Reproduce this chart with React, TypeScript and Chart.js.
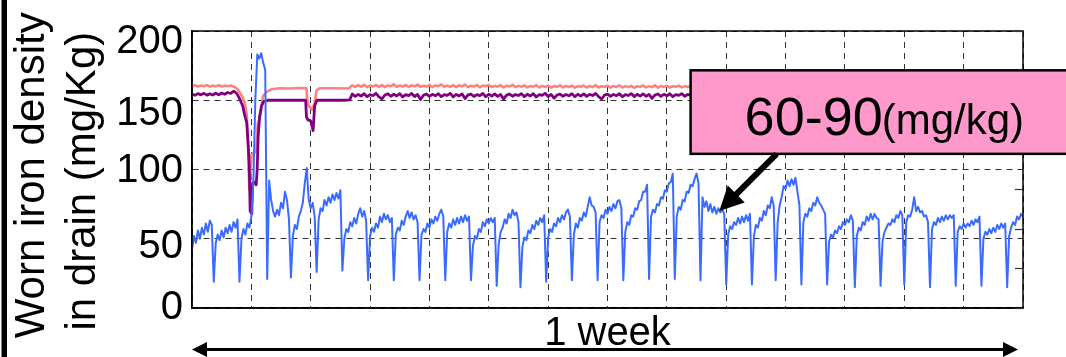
import React, { useEffect, useRef } from 'react';
import { Chart, registerables } from 'chart.js';

Chart.register(...registerables);

const FONT = 'Arial, "Liberation Sans", Helvetica, sans-serif';

// x axis: elapsed hours over one week, dashed grid every 12 h
const X_MIN = 0;
const X_MAX = 168;
const X_STEP = 12;

const Y_MIN = 0;
const Y_MAX = 200;
const Y_STEP = 50;
// vertical nudge (px) of each y tick label, as placed in the original figure
const Y_TICK_SHIFT: Record<number, number> = { 200: 11, 150: 14, 100: 1, 50: 8, 0: 0 };

// secondary (unlabelled) right axis with inward ticks
const Y2_MIN = 0;
const Y2_MAX = 7;
const Y2_STEP = 1;

const Y_TITLE = ['Worn iron density ', 'in drain (mg/Kg)  '];
const X_SPAN_LABEL = '1 week';
const CALLOUT_MAIN = '60-90';
const CALLOUT_UNIT = '(mg/kg)';

// callout box and arrow (data coords: hours, mg/kg)
const CALLOUT_BOX = { x: 100.8, yTop: 171.6, yBottom: 111.3 };
const ARROW_FROM = { x: 118.2, y: 111.3 };
const ARROW_TO = { x: 106.6, y: 70 };

// Worn iron density in drain (blue), one sample every 0.4 h (24 min)
const BLUE_STEP_H = 0.4;
const BLUE_VALUES: number[] = [
  42, 52, 47, 56, 50, 58, 53, 61, 55, 63, 60,
  19, 47, 53, 49, 56, 51, 58, 54, 60, 55, 62, 58, 64,
  19, 50, 57, 53, 61, 58, 66, 90, 150, 183, 180, 184, 177, 172,
  21, 92, 78, 70, 66, 71, 67, 76, 72, 84, 78, 64,
  22, 52, 60, 57, 66, 70, 76, 90, 101, 78, 72, 76, 66,
  26, 64, 72, 70, 78, 74, 80, 76, 82, 78, 83, 79, 85,
  27, 50, 57, 55, 62, 59, 65, 61, 68, 72, 66, 70, 63,
  20, 52, 58, 55, 61, 58, 66, 62, 68, 64, 67, 62, 65,
  20, 53, 58, 56, 63, 60, 66, 70, 65, 69, 64, 67, 62,
  20, 53, 57, 55, 61, 58, 64, 61, 66, 63, 68, 71, 66,
  20, 55, 61, 58, 64, 60, 65, 61, 66, 62, 67, 63, 66,
  20, 45, 52, 50, 57, 55, 62, 59, 64, 61, 65, 62, 65,
  16, 46, 55, 58, 64, 61, 68, 65, 71, 67, 69, 62,
  15, 44, 51, 49, 56, 54, 60, 57, 63, 60, 65, 62, 67,
  19, 51, 57, 55, 61, 59, 65, 62, 67, 64, 69, 71, 66,
  20, 53, 61, 58, 65, 63, 69, 66, 73, 80, 74, 73, 69,
  20, 62, 67, 65, 71, 68, 73, 70, 75, 72, 77, 78, 72,
  20, 55, 62, 60, 67, 66, 72, 71, 77, 78, 84, 84, 89,
  21, 66, 71, 69, 75, 74, 80, 79, 85, 84, 90, 91, 97,
  21, 66, 73, 71, 78, 77, 84, 83, 89, 88, 93, 97, 90,
  20, 80, 73, 77, 70, 75, 69, 73, 68, 72, 69, 71, 68,
  17, 53, 59, 57, 62, 60, 65, 61, 66, 62, 67, 63, 68,
  17, 52, 60, 58, 65, 63, 70, 67, 74, 72, 80, 74,
  20, 62, 74, 80, 88, 86, 92, 88, 93, 89, 94, 84, 74,
  17, 62, 68, 66, 72, 70, 76, 74, 80, 76, 74, 71, 68,
  17, 48, 53, 51, 56, 54, 59, 57, 62, 60, 64, 62, 67, 63,
  15, 52, 58, 56, 62, 60, 66, 63, 68, 64, 68, 65, 64,
  16, 48, 55, 58, 61, 60, 64, 62, 67, 65, 70, 67,
  17, 62, 67, 66, 71, 80, 70, 73, 69, 70, 66, 67, 62,
  15, 57, 62, 60, 65, 62, 66, 63, 67, 64, 67, 65, 67,
  16, 55, 59, 57, 61, 58, 61, 59, 63, 60, 64, 62, 66,
  16, 50, 55, 53, 57, 54, 58, 55, 60, 57, 61, 58, 61,
  15, 52, 58, 62, 60, 66, 64, 68, 66,
];

// purple trace: first day as [hour, value], then samples every 0.6 h
const PURPLE_HEAD: [number, number][] = [
  [0, 154.5], [0.6, 153.6], [1.2, 154.8], [1.8, 153.9], [2.4, 155], [3, 153.7], [3.6, 154.6], [4.2, 153.8],
  [4.8, 155.1], [5.4, 154], [6, 155.2], [6.6, 154.3], [7.2, 155.6], [7.8, 154.9], [8.44, 156.6], [9.04, 155],
  [9.64, 151], [10.24, 146], [10.66, 139], [11.06, 134], [11.36, 118], [11.56, 104], [11.76, 70], [12.08, 68],
  [12.24, 90], [12.48, 91], [12.98, 89], [13.18, 100], [13.38, 124], [13.66, 138], [14.06, 146], [14.48, 149],
  [15.3, 150], [17.74, 150], [20.76, 150], [22.98, 150], [23.14, 138], [23.4, 136], [24, 135], [24.48, 128],
  [24.8, 146], [25.26, 150], [27.82, 150], [30.88, 150], [31.88, 150.3],
];
const TAIL_START_H = 32.4;
const TAIL_STEP_H = 0.6;
const PURPLE_TAIL: number[] = [
  154.5, 152.8, 154.2, 153, 154.8, 152.6, 154, 153.4, 155, 152.5,
  151, 153.8, 154.6, 152.9, 154.3, 153.1, 154.7, 152.4, 154.1, 153.3,
  154.9, 152.7, 154.2, 150.5, 153.6, 154.5, 152.8, 154.3, 153.2, 154.8,
  152.6, 154, 153.5, 155, 152.4, 154.2, 153.1, 154.6, 151.2, 153.9,
  154.4, 152.7, 154.1, 153.3, 154.9, 152.5, 154.3, 153, 154.6, 152.8,
  154.2, 150.8, 153.7, 154.5, 152.9, 154.1, 153.4, 154.8, 152.6, 154.3,
  153.1, 154.7, 152.4, 154, 153.6, 155, 152.7, 154.2, 151.5, 153.8,
  154.4, 152.9, 154.1, 153.2, 154.8, 152.5, 154.3, 153, 154.6, 152.8,
  154.2, 153.4, 154.9, 152.6, 150.9, 153.7, 154.4, 152.8, 154.2, 153.3,
  154.7, 152.5, 154.1, 153.4, 154.8, 152.7, 154.3, 153, 154.6, 152.9,
  154.2, 151.4, 153.8, 154.5, 152.8, 154.3, 153.2, 154.7, 152.6, 154.1,
  153.5, 154.8, 152.9, 154.2, 153.6,
];
const PURPLE_END: [number, number] = [168, 154];

// salmon trace
const SALMON_HEAD: [number, number][] = [
  [0, 160], [0.6, 160.8], [1.2, 159.9], [1.8, 160.7], [2.4, 160.1], [3, 160.9], [3.6, 159.8], [4.2, 160.6],
  [4.8, 160], [5.4, 160.8], [6, 159.9], [6.6, 160.5], [7.2, 160.1], [7.8, 160.6], [8.64, 159.6], [9.24, 158],
  [10.24, 152], [10.66, 148], [11.06, 140], [11.36, 115], [11.56, 88], [11.66, 85], [12.02, 111], [13.02, 113],
  [13.28, 133], [13.66, 136], [14.36, 153], [15.1, 156], [16.12, 158], [17.74, 158.7], [19.76, 158.5],
  [21.8, 158.8], [23.14, 158.7], [23.3, 150], [23.6, 146], [24.34, 143], [24.8, 148], [25.16, 157],
  [25.82, 158.7], [28.86, 158.7], [31.68, 158.5],
];
const SALMON_TAIL: number[] = [
  160.8, 159.6, 160.9, 159.8, 161.2, 159.5, 160.6, 160, 161, 159.7,
  160.9, 159.4, 160.7, 160.1, 161.5, 159.8, 160.6, 159.9, 161.1, 159.6,
  160.8, 160, 161.3, 159.7, 160.5, 159.9, 161, 159.5, 160.7, 160.2,
  161.4, 159.8, 160.6, 159.7, 160.9, 159.5, 160.8, 160, 161.2, 159.6,
  160.5, 159.9, 160.9, 159.4, 160.6, 160.1, 161, 159.6, 160.4, 159.8,
  160.8, 159.3, 160.5, 159.9, 161.1, 159.5, 160.4, 159.7, 160.7, 159.3,
  160.3, 159.8, 160.9, 159.2, 160.4, 159.6, 160.6, 159.1, 160.2, 159.7,
  160.8, 159.3, 160.3, 159.6, 160.5, 159.1, 160.2, 159.8, 160.6, 159.2,
  160.4, 159.5, 160.9, 159.2, 160.1, 159.7, 160.5, 159.1, 160.3, 159.6,
  160.7, 159.2, 160.2, 159.5, 160.4, 159, 160.1, 159.7, 160.6, 159.3,
  160.2, 159.5, 160.8, 159.1, 160.3, 159.6, 160.4, 159.2, 160.1, 159.7,
  160.5, 159.3, 160.2, 159.6, 160.3,
];
const SALMON_END: [number, number] = [168, 159.5];

const sampled = (values: number[], start: number, step: number) =>
  values.map((y, i) => ({ x: start + i * step, y }));
const pairs = (pts: [number, number][]) => pts.map(([x, y]) => ({ x, y }));

const decorPlugin = {
  id: 'decor',
  afterDraw(chart: any) {
    const { ctx, chartArea: a, scales } = chart;
    const xs = scales.x;
    const ys = scales.y;
    const y2 = scales.y2;
    ctx.save();

    // plot frame
    ctx.strokeStyle = '#000';
    ctx.lineWidth = 1.5;
    ctx.setLineDash([]);
    ctx.strokeRect(a.left, a.top, a.right - a.left, a.bottom - a.top);

    // inward ticks of the right axis
    ctx.lineWidth = 1.2;
    ctx.strokeStyle = '#333';
    y2.ticks.forEach((t: any) => {
      const py = Math.round(y2.getPixelForValue(t.value)) + 0.5;
      ctx.beginPath();
      ctx.moveTo(a.right - 8, py);
      ctx.lineTo(a.right, py);
      ctx.stroke();
    });

    // left black bar
    ctx.fillStyle = '#000';
    ctx.fillRect(1.5, 0, 5.5, chart.height);

    // callout box
    const bx = xs.getPixelForValue(CALLOUT_BOX.x);
    const bt = ys.getPixelForValue(CALLOUT_BOX.yTop);
    const bb = ys.getPixelForValue(CALLOUT_BOX.yBottom);
    ctx.fillStyle = '#FF99CC';
    ctx.fillRect(bx, bt, chart.width - bx + 10, bb - bt);
    ctx.strokeStyle = '#000';
    ctx.lineWidth = 2.5;
    ctx.strokeRect(bx, bt, chart.width - bx + 10, bb - bt);

    ctx.fillStyle = '#000';
    ctx.textAlign = 'left';
    ctx.textBaseline = 'alphabetic';
    ctx.font = `54px ${FONT}`;
    const tx = bx + 54;
    const tb = bt + 64.5;
    ctx.fillText(CALLOUT_MAIN, tx, tb);
    const w = ctx.measureText(CALLOUT_MAIN).width;
    ctx.font = `42px ${FONT}`;
    ctx.fillText(CALLOUT_UNIT, tx + w - 1, tb - 1);

    // arrow
    const ax0 = xs.getPixelForValue(ARROW_FROM.x);
    const ay0 = ys.getPixelForValue(ARROW_FROM.y);
    const ax1 = xs.getPixelForValue(ARROW_TO.x);
    const ay1 = ys.getPixelForValue(ARROW_TO.y);
    const dx = ax1 - ax0;
    const dy = ay1 - ay0;
    const len = Math.hypot(dx, dy);
    const ux = dx / len;
    const uy = dy / len;
    const headLen = 24;
    const headHalf = 12;
    const hbx = ax1 - ux * headLen;
    const hby = ay1 - uy * headLen;
    ctx.strokeStyle = '#000';
    ctx.lineWidth = 6;
    ctx.lineCap = 'butt';
    ctx.beginPath();
    ctx.moveTo(ax0, ay0);
    ctx.lineTo(hbx + ux * 2, hby + uy * 2);
    ctx.stroke();
    ctx.beginPath();
    ctx.moveTo(ax1, ay1);
    ctx.lineTo(hbx - uy * headHalf, hby + ux * headHalf);
    ctx.lineTo(hbx + uy * headHalf, hby - ux * headHalf);
    ctx.closePath();
    ctx.fill();

    // "1 week" span
    const cx = (a.left + a.right) / 2;
    ctx.font = `40px ${FONT}`;
    ctx.textAlign = 'center';
    ctx.fillText(X_SPAN_LABEL, cx, a.bottom + 37);

    const ly = a.bottom + 41.5;
    const lx0 = xs.getPixelForValue(X_MIN);
    const lx1 = xs.getPixelForValue(X_MAX) - 5;
    ctx.lineWidth = 3;
    ctx.beginPath();
    ctx.moveTo(lx0 + 10, ly);
    ctx.lineTo(lx1 - 10, ly);
    ctx.stroke();
    ctx.beginPath();
    ctx.moveTo(lx0, ly);
    ctx.lineTo(lx0 + 15, ly - 7.5);
    ctx.lineTo(lx0 + 15, ly + 7.5);
    ctx.closePath();
    ctx.fill();
    ctx.beginPath();
    ctx.moveTo(lx1, ly);
    ctx.lineTo(lx1 - 15, ly - 7.5);
    ctx.lineTo(lx1 - 15, ly + 7.5);
    ctx.closePath();
    ctx.fill();

    ctx.restore();
  },
};

export default function App() {
  const ref = useRef<HTMLCanvasElement>(null);

  useEffect(() => {
    document.body.style.margin = '0';
    const canvas = ref.current!;
    const blueData = sampled(BLUE_VALUES, 0, BLUE_STEP_H);
    const purpleData = [
      ...pairs(PURPLE_HEAD),
      ...sampled(PURPLE_TAIL, TAIL_START_H, TAIL_STEP_H),
      ...pairs([PURPLE_END]),
    ];
    const salmonData = [
      ...pairs(SALMON_HEAD),
      ...sampled(SALMON_TAIL, TAIL_START_H, TAIL_STEP_H),
      ...pairs([SALMON_END]),
    ];
    const chart = new Chart(canvas, {
      type: 'line',
      data: {
        datasets: [
          {
            label: 'drain',
            data: blueData,
            borderColor: '#3A6BFF',
            borderWidth: 2,
            pointRadius: 0,
            order: 0,
          },
          {
            label: 'purple',
            data: purpleData,
            borderColor: '#800080',
            borderWidth: 2.8,
            pointRadius: 0,
            order: 1,
          },
          {
            label: 'salmon',
            data: salmonData,
            borderColor: '#FF8080',
            borderWidth: 2.6,
            pointRadius: 0,
            order: 2,
          },
        ],
      },
      plugins: [decorPlugin],
      options: {
        responsive: false,
        animation: false,
        devicePixelRatio: 1,
        layout: { padding: { left: 0, right: 43, top: 24, bottom: 49 } },
        elements: { line: { tension: 0, borderJoinStyle: 'round' } },
        plugins: { legend: { display: false }, tooltip: { enabled: false } },
        scales: {
          x: {
            type: 'linear',
            min: X_MIN,
            max: X_MAX,
            ticks: { display: false, stepSize: X_STEP },
            grid: { color: '#333', lineWidth: 1, drawTicks: false },
            border: { display: true, color: '#000', width: 1.5, dash: [6, 5] },
            afterFit: (s: any) => {
              s.height = 0;
            },
          },
          y: {
            type: 'linear',
            position: 'left',
            min: Y_MIN,
            max: Y_MAX,
            ticks: {
              stepSize: Y_STEP,
              color: '#000',
              padding: 9,
              callback: (v: any) => {
                const s = Y_TICK_SHIFT[v] || 0;
                return s ? ['', String(v)] : String(v);
              },
              font: (c: any) => {
                const s = (c.tick && Y_TICK_SHIFT[c.tick.value]) || 0;
                return { family: FONT, size: 40, lineHeight: s ? `${2 * s}px` : 1.2 };
              },
            },
            grid: { color: '#333', lineWidth: 1, drawTicks: false },
            border: { display: true, color: '#000', width: 1.5, dash: [6, 5] },
            title: {
              display: true,
              text: Y_TITLE,
              color: '#000',
              font: { family: FONT, size: 42, lineHeight: 1.2143 },
              padding: { top: 6.5, bottom: 0 },
            },
            afterFit: (s: any) => {
              s.width = 192;
            },
          },
          y2: {
            type: 'linear',
            position: 'right',
            min: Y2_MIN,
            max: Y2_MAX,
            ticks: { display: false, stepSize: Y2_STEP },
            grid: { display: false, drawTicks: false },
            border: { display: false },
            afterFit: (s: any) => {
              s.width = 0;
            },
          },
        },
      },
    } as any);
    return () => chart.destroy();
  }, []);

  return (
    <div style={{ position: 'absolute', left: 0, top: 0, width: 1066, height: 357, background: '#fff' }}>
      <canvas ref={ref} width={1066} height={357} style={{ display: 'block', width: 1066, height: 357 }} />
    </div>
  );
}
